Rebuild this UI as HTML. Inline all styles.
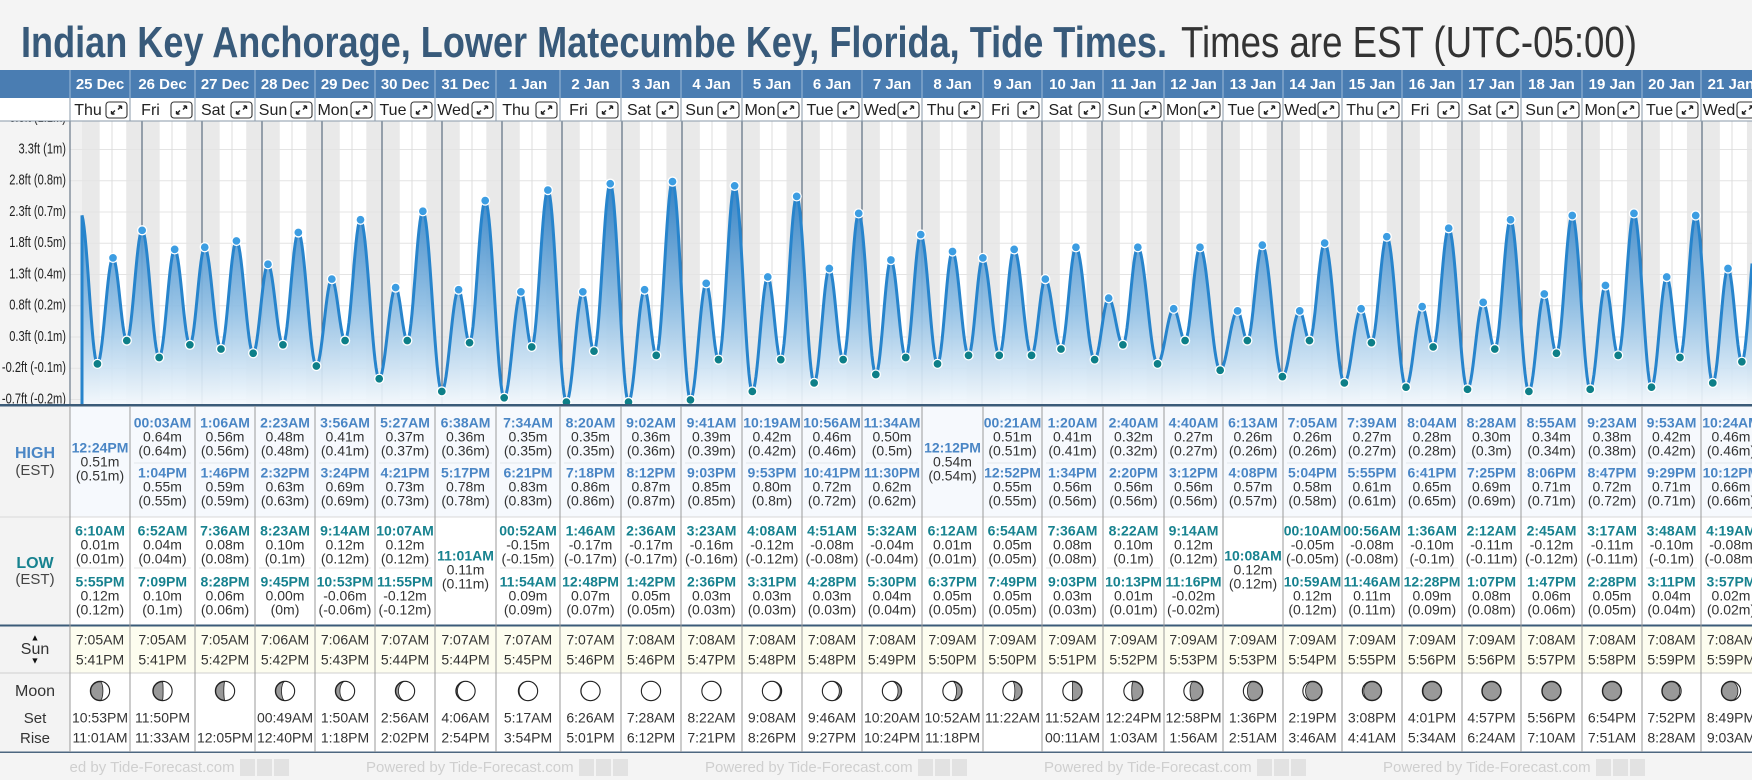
<!DOCTYPE html>
<html><head><meta charset="utf-8"><style>
html,body{margin:0;padding:0;background:#f4f4f4;}
svg{display:block;font-family:"Liberation Sans",sans-serif;}
</style></head><body>
<svg id="root" width="1752" height="780" viewBox="0 0 1752 780" xmlns="http://www.w3.org/2000/svg">
<defs>
<linearGradient id="fillGrad" gradientUnits="userSpaceOnUse" x1="0" y1="185" x2="0" y2="405">
<stop offset="0" stop-color="#2a7cc2"/><stop offset="0.55" stop-color="#8dbde3"/><stop offset="1" stop-color="#f4f9fd"/>
</linearGradient>
<clipPath id="chartClip"><rect x="70" y="121" width="1682" height="284"/></clipPath>
<clipPath id="labelClip"><rect x="0" y="121" width="70" height="284"/></clipPath>
</defs>
<rect x="0" y="0" width="1752" height="780" fill="#f4f4f4"/>
<text x="21" y="57" font-size="44" font-weight="bold" fill="#385a7a" textLength="1146" lengthAdjust="spacingAndGlyphs">Indian Key Anchorage, Lower Matecumbe Key, Florida, Tide Times.</text>
<text x="1181" y="57" font-size="44" fill="#333" textLength="456" lengthAdjust="spacingAndGlyphs">Times are EST (UTC-05:00)</text>
<g id="layer"></g>
</svg>
<script>
// ---- data ----
const dates = ['25 Dec','26 Dec','27 Dec','28 Dec','29 Dec','30 Dec','31 Dec','1 Jan','2 Jan','3 Jan','4 Jan','5 Jan','6 Jan','7 Jan','8 Jan','9 Jan','10 Jan','11 Jan','12 Jan','13 Jan','14 Jan','15 Jan','16 Jan','17 Jan','18 Jan','19 Jan','20 Jan','21 Jan'];
const weekdays = ['Thu','Fri','Sat','Sun','Mon','Tue','Wed','Thu','Fri','Sat','Sun','Mon','Tue','Wed','Thu','Fri','Sat','Sun','Mon','Tue','Wed','Thu','Fri','Sat','Sun','Mon','Tue','Wed'];
const highTimes = [['12:24PM'],['00:03AM','1:04PM'],['1:06AM','1:46PM'],['2:23AM','2:32PM'],['3:56AM','3:24PM'],['5:27AM','4:21PM'],['6:38AM','5:17PM'],['7:34AM','6:21PM'],['8:20AM','7:18PM'],['9:02AM','8:12PM'],['9:41AM','9:03PM'],['10:19AM','9:53PM'],['10:56AM','10:41PM'],['11:34AM','11:30PM'],['12:12PM'],['00:21AM','12:52PM'],['1:20AM','1:34PM'],['2:40AM','2:20PM'],['4:40AM','3:12PM'],['6:13AM','4:08PM'],['7:05AM','5:04PM'],['7:39AM','5:55PM'],['8:04AM','6:41PM'],['8:28AM','7:25PM'],['8:55AM','8:06PM'],['9:23AM','8:47PM'],['9:53AM','9:29PM'],['10:24AM','10:12PM']];
const highM = [[0.51],[0.64,0.55],[0.56,0.59],[0.48,0.63],[0.41,0.69],[0.37,0.73],[0.36,0.78],[0.35,0.83],[0.35,0.86],[0.36,0.87],[0.39,0.85],[0.42,0.80],[0.46,0.72],[0.50,0.62],[0.54],[0.51,0.55],[0.41,0.56],[0.32,0.56],[0.27,0.56],[0.26,0.57],[0.26,0.58],[0.27,0.61],[0.28,0.65],[0.30,0.69],[0.34,0.71],[0.38,0.72],[0.42,0.71],[0.46,0.66]];
const lowTimes = [['6:10AM','5:55PM'],['6:52AM','7:09PM'],['7:36AM','8:28PM'],['8:23AM','9:45PM'],['9:14AM','10:53PM'],['10:07AM','11:55PM'],['11:01AM'],['00:52AM','11:54AM'],['1:46AM','12:48PM'],['2:36AM','1:42PM'],['3:23AM','2:36PM'],['4:08AM','3:31PM'],['4:51AM','4:28PM'],['5:32AM','5:30PM'],['6:12AM','6:37PM'],['6:54AM','7:49PM'],['7:36AM','9:03PM'],['8:22AM','10:13PM'],['9:14AM','11:16PM'],['10:08AM'],['00:10AM','10:59AM'],['00:56AM','11:46AM'],['1:36AM','12:28PM'],['2:12AM','1:07PM'],['2:45AM','1:47PM'],['3:17AM','2:28PM'],['3:48AM','3:11PM'],['4:19AM','3:57PM']];
const lowM = [[0.01,0.12],[0.04,0.10],[0.08,0.06],[0.10,0.00],[0.12,-0.06],[0.12,-0.12],[0.11],[-0.15,0.09],[-0.17,0.07],[-0.17,0.05],[-0.16,0.03],[-0.12,0.03],[-0.08,0.03],[-0.04,0.04],[0.01,0.05],[0.05,0.05],[0.08,0.03],[0.10,0.01],[0.12,-0.02],[0.12],[-0.05,0.12],[-0.08,0.11],[-0.10,0.09],[-0.11,0.08],[-0.12,0.06],[-0.11,0.05],[-0.10,0.04],[-0.08,0.02]];
const preHighTime = '11:31PM';   // high on 24 Dec, just before the table starts
const preHighM = 0.72;
const sunrise = ['7:05AM','7:05AM','7:05AM','7:06AM','7:06AM','7:07AM','7:07AM','7:07AM','7:07AM','7:08AM','7:08AM','7:08AM','7:08AM','7:08AM','7:09AM','7:09AM','7:09AM','7:09AM','7:09AM','7:09AM','7:09AM','7:09AM','7:09AM','7:09AM','7:08AM','7:08AM','7:08AM','7:08AM'];
const sunset = ['5:41PM','5:41PM','5:42PM','5:42PM','5:43PM','5:44PM','5:44PM','5:45PM','5:46PM','5:46PM','5:47PM','5:48PM','5:48PM','5:49PM','5:50PM','5:50PM','5:51PM','5:52PM','5:53PM','5:53PM','5:54PM','5:55PM','5:56PM','5:56PM','5:57PM','5:58PM','5:59PM','5:59PM'];
const moonSet = ['10:53PM','11:50PM','','00:49AM','1:50AM','2:56AM','4:06AM','5:17AM','6:26AM','7:28AM','8:22AM','9:08AM','9:46AM','10:20AM','10:52AM','11:22AM','11:52AM','12:24PM','12:58PM','1:36PM','2:19PM','3:08PM','4:01PM','4:57PM','5:56PM','6:54PM','7:52PM','8:49PM'];
const moonRise = ['11:01AM','11:33AM','12:05PM','12:40PM','1:18PM','2:02PM','2:54PM','3:54PM','5:01PM','6:12PM','7:21PM','8:26PM','9:27PM','10:24PM','11:18PM','','00:11AM','1:03AM','1:56AM','2:51AM','3:46AM','4:41AM','5:34AM','6:24AM','7:10AM','7:51AM','8:28AM','9:03AM'];
const moonPhase = [0.20,0.24,0.27,0.31,0.34,0.37,0.41,0.44,0.47,0.51,0.54,0.58,0.61,0.64,0.68,0.71,0.75,0.78,0.81,0.85,0.88,0.92,0.95,0.98,1.02,1.05,1.08,1.12];
const yTickFt = [3.8,3.3,2.8,2.3,1.8,1.3,0.8,0.3,-0.2,-0.7];
const yTickLabels = ['3.8ft (1.1m)','3.3ft (1m)','2.8ft (0.8m)','2.3ft (0.7m)','1.8ft (0.5m)','1.3ft (0.4m)','0.8ft (0.2m)','0.3ft (0.1m)','-0.2ft (-0.1m)','-0.7ft (-0.2m)'];

// ---- layout ----
const colEdges = [70,130,195,255,315,375,435,496,560,621,681,742,802,862,922,983,1042,1103,1164,1223,1283,1342,1402,1462,1521,1582,1642,1701,1761];
const NS = 'http://www.w3.org/2000/svg';
const layer = document.getElementById('layer');
function el(tag, attrs, parent, txt){
  const e = document.createElementNS(NS, tag);
  for (const k in attrs) e.setAttribute(k, attrs[k]);
  if (txt !== undefined) e.textContent = txt;
  (parent || layer).appendChild(e);
  return e;
}
function parseT(s){
  const m = s.match(/(\d+):(\d+)(AM|PM)/);
  let h = (+m[1]) % 12; if (m[3] === 'PM') h += 12;
  return (h + (+m[2]) / 60) / 24;
}
const xOf = t => 82 + 60 * t;          // t in days from 25 Dec 00:00
const yOf = m => 366 - 212 * m;        // tide height in metres
const yFt = ft => 337 - (ft - 0.3) * 62.5;
const fmtP = v => '(' + String(+v.toFixed(2)) + 'm)';

// ---- chart background ----
const chartG = el('g', {'clip-path': 'url(#chartClip)'});


el('rect', {x:70, y:121, width:1682, height:284, fill:'#ffffff'}, chartG);
el('rect', {x:70, y:121, width:12, height:284, fill:'#f1f1f1'}, chartG);
for (let i = -1; i < dates.length; i++) {
  const ss = i < 0 ? parseT(sunset[0]) - 1 : i + parseT(sunset[i]);
  const sr = (i + 1 < dates.length) ? i + 1 + parseT(sunrise[i + 1]) : i + 1 + parseT(sunrise[i]);
  const x1 = Math.max(82, xOf(ss)), x2 = xOf(sr);
  if (x2 > x1) {
    const r = el('rect', {x:x1, y:121, width:x2 - x1, height:284, fill:'#e9e9e9'}, chartG);
    
    
  }
}
yTickFt.forEach(ft => el('line', {x1:70, x2:1752, y1:yFt(ft), y2:yFt(ft), stroke:'#e4e4e4', 'stroke-width':1}, chartG));
for (let k = 0; k < 29; k++) {
  el('line', {x1:xOf(k + 0.5), x2:xOf(k + 0.5), y1:121, y2:405, stroke:'#dcdcdc', 'stroke-width':1}, chartG);
  if (k > 0) {
    const ml = el('line', {x1:xOf(k), x2:xOf(k), y1:121, y2:405, stroke:'#5c6e80', 'stroke-width':1.2}, chartG);
    
    
  }
}

// ---- tide events ----
const events = [{t: -1 + parseT(preHighTime), m: preHighM, hi: true}];
for (let i = 0; i < dates.length; i++) {
  highTimes[i].forEach((s, j) => events.push({t: i + parseT(s), m: highM[i][j], hi: true}));
  lowTimes[i].forEach((s, j) => events.push({t: i + parseT(s), m: lowM[i][j], hi: false}));
}
events.sort((a, b) => a.t - b.t);
function hAt(t){
  for (let k = 0; k < events.length - 1; k++) {
    const a = events[k], b = events[k + 1];
    if (t >= a.t && t <= b.t) {
      const f = (1 - Math.cos(Math.PI * (t - a.t) / (b.t - a.t))) / 2;
      return a.m + (b.m - a.m) * f;
    }
  }
  return events[events.length - 1].m;
}
const pts = [];
const tEnd = Math.min((1752 - 82) / 60, events[events.length - 1].t);
for (let x = 82; x <= xOf(tEnd); x += 1) pts.push([x, yOf(hAt((x - 82) / 60))]);
const lineD = 'M' + pts.map(p => p[0].toFixed(1) + ',' + p[1].toFixed(1)).join('L');
const fillPath = el('path', {d: lineD + 'L' + pts[pts.length-1][0] + ',405L82,405Z', fill:'url(#fillGrad)', 'fill-opacity':0.92}, chartG);


el('line', {x1:82, x2:82, y1:pts[0][1], y2:405, stroke:'#2784cc', 'stroke-width':3}, chartG);
const tideLine = el('path', {d: lineD, fill:'none', stroke:'#2784cc', 'stroke-width':3, 'stroke-linejoin':'round'}, chartG);


events.forEach(ev => {
  if (ev.t < 0) return;
  const c = el('circle', {cx:xOf(ev.t), cy:yOf(ev.m), r:4.5, fill: ev.hi ? '#3c9de2' : '#0d7f88', stroke:'#fff', 'stroke-width':1.3}, chartG);
  
  
});

// y axis labels
const labG = el('g', {'clip-path':'url(#labelClip)'});


yTickFt.forEach((ft, i) => {
  const t = el('text', {x:66, y:yFt(ft), 'text-anchor':'end', 'dominant-baseline':'middle', 'font-size':15, fill:'#222'}, labG, yTickLabels[i]);
  
  
  const w = t.getComputedTextLength();
  if (w > 0) { t.setAttribute('textLength', (w * 0.74).toFixed(1)); t.setAttribute('lengthAdjust', 'spacingAndGlyphs'); }
});
el('line', {x1:70, x2:70, y1:121, y2:405, stroke:'#6a7a8a', 'stroke-width':1.2});

// ---- header rows ----
el('rect', {x:0, y:70, width:1752, height:28, fill:'#4a7db2'});
el('rect', {x:0, y:98, width:1752, height:23, fill:'#ffffff'});
el('line', {x1:0, x2:1752, y1:121, y2:121, stroke:'#8a9aaa', 'stroke-width':1});
for (let i = 0; i < dates.length; i++) {
  const L = colEdges[i], R = colEdges[i + 1], cx = (L + R) / 2;
  const dt = el('text', {x:cx, y:89, 'text-anchor':'middle', 'font-size':15, 'font-weight':'bold', fill:'#fff'}, layer, dates[i]);
  
  
  el('line', {x1:L, x2:L, y1:70, y2:98, stroke:'#9dbad8', 'stroke-width':1});
  el('line', {x1:L, x2:L, y1:98, y2:121, stroke:'#8a9aaa', 'stroke-width':1});
  const ix = R - 24;
  const wd = el('text', {x:(L + ix) / 2, y:115, 'text-anchor':'middle', 'font-size':16, fill:'#222'}, layer, weekdays[i]);
  
  
  const g = el('g', {});
  
  
  el('rect', {x:ix, y:102, width:21, height:16, rx:3, fill:'#fff', stroke:'#333', 'stroke-width':1.1}, g);
  const ax = ix + 10.5, ay = 110;
  el('path', {d:`M${ax-5},${ay+4}L${ax-1.5},${ay+0.5}M${ax+5},${ay-4}L${ax+1.5},${ay-0.5}M${ax-5},${ay+4}l0,-3M${ax-5},${ay+4}l3,0M${ax+5},${ay-4}l-3,0M${ax+5},${ay-4}l0,3`, stroke:'#222', 'stroke-width':1.4, fill:'none'}, g);
}

// ---- table ----
el('rect', {x:0, y:406, width:70, height:346, fill:'#f3f3f3'});
el('rect', {x:70, y:406, width:1682, height:111, fill:'#f6f9fd'});
el('rect', {x:70, y:517, width:1682, height:108, fill:'#ffffff'});
el('rect', {x:70, y:626, width:1682, height:47, fill:'#fdfdef'});
el('rect', {x:70, y:673, width:1682, height:79, fill:'#ffffff'});
el('rect', {x:0, y:752, width:1752, height:28, fill:'#f4f4f4'});
el('line', {x1:0, x2:1752, y1:517, y2:517, stroke:'#d8d8d8', 'stroke-width':1});
el('line', {x1:0, x2:1752, y1:673, y2:673, stroke:'#cfcfcf', 'stroke-width':1});
el('rect', {x:0, y:404, width:1752, height:2.5, fill:'#3b5b78'});
el('rect', {x:0, y:624.5, width:1752, height:2, fill:'#3b5b78'});
el('rect', {x:0, y:751.5, width:1752, height:1.5, fill:'#4d6780'});

function lbl(x, y, s, attrs, name){
  const t = el('text', Object.assign({x:x, y:y, 'text-anchor':'middle', 'dominant-baseline':'middle', 'font-size':15, fill:'#333'}, attrs || {}), layer, s);
  
  
  return t;
}
lbl(35, 454, 'HIGH', {'font-weight':'bold', fill:'#4a86c5', 'font-size':16}, 'high-row-label');
lbl(35, 471, '(EST)', {fill:'#444', 'font-size':15}, 'high-row-tz');
lbl(35, 564, 'LOW', {'font-weight':'bold', fill:'#17828f', 'font-size':16}, 'low-row-label');
lbl(35, 580, '(EST)', {fill:'#444', 'font-size':15}, 'low-row-tz');
lbl(35, 638, '▲', {'font-size':9, fill:'#111'}, 'sunrise-arrow');
lbl(35, 650, 'Sun', {'font-size':16}, 'sun-row-label');
lbl(35, 661, '▼', {'font-size':9, fill:'#111'}, 'sunset-arrow');
lbl(35, 692, 'Moon', {'font-size':16}, 'moon-row-label');
lbl(35, 719, 'Set', {'font-size':15}, 'moonset-label');
lbl(35, 739, 'Rise', {'font-size':15}, 'moonrise-label');

function entry(cx, y, time, m, color, name){
  lbl(cx, y, time, {'font-weight':'bold', fill:color, 'font-size':14}, name + '-time');
  lbl(cx, y + 14, m.toFixed(2) + 'm', {'font-size':14}, name + '-height');
  lbl(cx, y + 28, fmtP(m), {'font-size':14}, name + '-height-alt');
}
function moonIcon(cx, cy, p){
  const r = 9.5;
  const g = el('g', {});
  
  
  el('circle', {cx:cx, cy:cy, r:r, fill:'#999', stroke:'#222', 'stroke-width':1.4}, g);
  const ph = ((p % 1) + 1) % 1;
  const c = Math.cos(2 * Math.PI * ph), rx = Math.abs(c) * r, gib = c < 0;
  let d;
  if (ph < 0.5) d = `M${cx},${cy-r}A${r},${r} 0 0 1 ${cx},${cy+r}A${rx},${r} 0 0 ${gib?1:0} ${cx},${cy-r}Z`;
  else d = `M${cx},${cy-r}A${r},${r} 0 0 0 ${cx},${cy+r}A${rx},${r} 0 0 ${gib?0:1} ${cx},${cy-r}Z`;
  if (Math.abs(ph - 0) > 0.02 && Math.abs(ph - 1) > 0.02) el('path', {d:d, fill:'#fff', stroke:'#222', 'stroke-width':0.8}, g);
}
for (let i = 0; i < dates.length; i++) {
  const L = colEdges[i], R = colEdges[i + 1], cx = (L + R) / 2;
  el('line', {x1:L, x2:L, y1:406, y2:752, stroke:'#9a9a9a', 'stroke-width':1});
  if (highTimes[i].length === 1) entry(cx, 449, highTimes[i][0], highM[i][0], '#4a86c5', 'high-tide');
  else {
    entry(cx, 424, highTimes[i][0], highM[i][0], '#4a86c5', 'high-tide');
    el('line', {x1:L + 4, x2:R - 4, y1:463, y2:463, stroke:'#e2e6ea', 'stroke-width':1});
    entry(cx, 474, highTimes[i][1], highM[i][1], '#4a86c5', 'high-tide');
  }
  if (lowTimes[i].length === 1) entry(cx, 557, lowTimes[i][0], lowM[i][0], '#17828f', 'low-tide');
  else {
    entry(cx, 532, lowTimes[i][0], lowM[i][0], '#17828f', 'low-tide');
    el('line', {x1:L + 4, x2:R - 4, y1:568, y2:568, stroke:'#e6e6e6', 'stroke-width':1});
    entry(cx, 583, lowTimes[i][1], lowM[i][1], '#17828f', 'low-tide');
  }
  lbl(cx, 641, sunrise[i], {'font-size':14}, 'sunrise-time');
  lbl(cx, 661, sunset[i], {'font-size':14}, 'sunset-time');
  moonIcon(cx, 691, moonPhase[i]);
  if (moonSet[i]) lbl(cx, 719, moonSet[i], {'font-size':14}, 'moonset-time');
  if (moonRise[i]) lbl(cx, 739, moonRise[i], {'font-size':14}, 'moonrise-time');
}

// ---- footer ----
for (let k = 0; k < 5; k++) {
  const fx = 27 + k * 339;
  const t = el('text', {x:fx, y:772, 'font-size':15, fill:'#cfcfcf'}, layer, 'Powered by Tide-Forecast.com');
  
  
  [0, 17, 34].forEach(o => el('rect', {x:fx + 213 + o, y:759, width:15, height:17, fill:'#e2e2e2'}));
}
el('rect', {x:0, y:753, width:70, height:27, fill:'#f4f4f4'});
</script>
</body></html>
